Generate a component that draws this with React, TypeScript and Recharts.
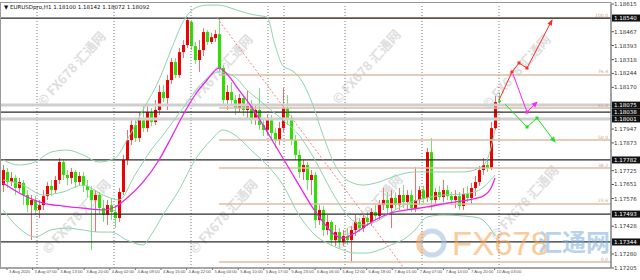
import React from 'react';
import { ComposedChart, Bar, Line, XAxis, YAxis, ReferenceLine } from 'recharts';

// EURUSD H1 candles
const opens = [
  1.17648, 1.17718, 1.17664, 1.17686, 1.17632, 1.17659, 1.17595, 1.17541, 1.17568, 1.17515,
  1.17541, 1.17589, 1.17643, 1.17621, 1.17675, 1.17771, 1.17702, 1.17686, 1.17718, 1.17664,
  1.17696, 1.17643, 1.17621, 1.17568, 1.17595, 1.17525, 1.17488, 1.17541, 1.17504, 1.17472,
  1.17611, 1.17782, 1.17888, 1.17969, 1.17899, 1.18006, 1.17952, 1.18038, 1.17985, 1.18049,
  1.18145, 1.18113, 1.18209, 1.18305, 1.18236, 1.18358, 1.18396, 1.18519, 1.18390, 1.18316,
  1.18369, 1.18465, 1.18412, 1.18433, 1.18454, 1.18273, 1.18102, 1.18145, 1.18102, 1.18059,
  1.18113, 1.18049, 1.18081, 1.17995, 1.18049, 1.17969, 1.17942, 1.17995, 1.17926, 1.17888,
  1.17952, 1.18059, 1.17995, 1.17888, 1.17809, 1.17718, 1.17755, 1.17675, 1.17702, 1.17461,
  1.17515, 1.17408, 1.17451, 1.17354, 1.17397, 1.17344, 1.17376, 1.17354, 1.17408, 1.17451,
  1.17418, 1.17472, 1.17451, 1.17504, 1.17483, 1.17541, 1.17568, 1.17525, 1.17579, 1.17541,
  1.17595, 1.17557, 1.17595, 1.17525, 1.17568, 1.17621, 1.17579, 1.17824, 1.17568, 1.17611,
  1.17584, 1.17621, 1.17589, 1.17568, 1.17589, 1.17536, 1.17600, 1.17579, 1.17632, 1.17664,
  1.17728, 1.17755, 1.17739, 1.17952, 1.18100,
];
const highs = [
  1.17755, 1.17739, 1.17718, 1.17702, 1.17686, 1.17675, 1.17621, 1.17595, 1.17589, 1.17568,
  1.17621, 1.17664, 1.17675, 1.17696, 1.17792, 1.17782, 1.17728, 1.17739, 1.17728, 1.17718,
  1.17718, 1.17675, 1.17643, 1.17621, 1.17611, 1.17568, 1.17568, 1.17579, 1.17541, 1.17632,
  1.17809, 1.17942, 1.18006, 1.17995, 1.18038, 1.18075, 1.18081, 1.18059, 1.18102, 1.18182,
  1.18182, 1.18236, 1.18326, 1.18326, 1.18380, 1.18422, 1.18545, 1.18530, 1.18412, 1.18422,
  1.18486, 1.18476, 1.18460, 1.18476, 1.18540, 1.18289, 1.18182, 1.18198, 1.18129, 1.18134,
  1.18129, 1.18155, 1.18102, 1.18075, 1.18166, 1.18006, 1.18022, 1.18022, 1.17952, 1.17985,
  1.18166, 1.18129, 1.18022, 1.17915, 1.17835, 1.17782, 1.17771, 1.17728, 1.17718, 1.17541,
  1.17536, 1.17488, 1.17461, 1.17435, 1.17418, 1.17408, 1.17418, 1.17429, 1.17488, 1.17472,
  1.17493, 1.17504, 1.17525, 1.17541, 1.17568, 1.17632, 1.17611, 1.17621, 1.17611, 1.17632,
  1.17648, 1.17621, 1.17621, 1.17744, 1.17643, 1.17643, 1.17846, 1.17899, 1.17632, 1.17643,
  1.17675, 1.17648, 1.17611, 1.17621, 1.17611, 1.17632, 1.17643, 1.17659, 1.17696, 1.17750,
  1.17792, 1.17782, 1.17985, 1.18123, 1.18142,
];
const lows = [
  1.17611, 1.17632, 1.17643, 1.17595, 1.17611, 1.17541, 1.17504, 1.17354, 1.17488, 1.17472,
  1.17515, 1.17568, 1.17589, 1.17600, 1.17654, 1.17675, 1.17648, 1.17654, 1.17632, 1.17643,
  1.17611, 1.17579, 1.17301, 1.17397, 1.17493, 1.17451, 1.17435, 1.17461, 1.17418, 1.17451,
  1.17595, 1.17755, 1.17862, 1.17878, 1.17878, 1.17931, 1.17931, 1.17963, 1.17969, 1.18022,
  1.18091, 1.18049, 1.18187, 1.18220, 1.18220, 1.18326, 1.18380, 1.18369, 1.18294, 1.18252,
  1.18337, 1.18396, 1.18401, 1.18412, 1.18252, 1.18070, 1.18049, 1.18081, 1.18022, 1.18038,
  1.18017, 1.18006, 1.17974, 1.17969, 1.17942, 1.17910, 1.17915, 1.17888, 1.17846, 1.17862,
  1.17931, 1.17969, 1.17862, 1.17782, 1.17686, 1.17675, 1.17621, 1.17595, 1.17418, 1.17435,
  1.17376, 1.17381, 1.17328, 1.17322, 1.17312, 1.17322, 1.17328, 1.17237, 1.17376, 1.17397,
  1.17397, 1.17429, 1.17429, 1.17461, 1.17461, 1.17515, 1.17493, 1.17418, 1.17515, 1.17515,
  1.17525, 1.17515, 1.17504, 1.17504, 1.17541, 1.17547, 1.17557, 1.17515, 1.17541, 1.17568,
  1.17557, 1.17568, 1.17541, 1.17525, 1.17515, 1.17515, 1.17557, 1.17547, 1.17589, 1.17643,
  1.17702, 1.17718, 1.17728, 1.17942, 1.18072,
];
const closes = [
  1.17728, 1.17664, 1.17686, 1.17632, 1.17664, 1.17595, 1.17541, 1.17568, 1.17515, 1.17541,
  1.17589, 1.17643, 1.17621, 1.17675, 1.17771, 1.17702, 1.17686, 1.17718, 1.17664, 1.17696,
  1.17643, 1.17621, 1.17568, 1.17595, 1.17525, 1.17488, 1.17541, 1.17504, 1.17472, 1.17611,
  1.17782, 1.17888, 1.17969, 1.17899, 1.18006, 1.17952, 1.18038, 1.17985, 1.18049, 1.18145,
  1.18113, 1.18209, 1.18305, 1.18236, 1.18358, 1.18396, 1.18529, 1.18390, 1.18316, 1.18369,
  1.18465, 1.18412, 1.18438, 1.18454, 1.18273, 1.18102, 1.18145, 1.18102, 1.18059, 1.18113,
  1.18049, 1.18081, 1.17995, 1.18049, 1.17969, 1.17942, 1.17995, 1.17926, 1.17888, 1.17952,
  1.18059, 1.17995, 1.17888, 1.17809, 1.17718, 1.17755, 1.17675, 1.17702, 1.17461, 1.17515,
  1.17408, 1.17451, 1.17354, 1.17397, 1.17344, 1.17376, 1.17354, 1.17408, 1.17451, 1.17418,
  1.17472, 1.17451, 1.17504, 1.17483, 1.17541, 1.17568, 1.17525, 1.17579, 1.17541, 1.17595,
  1.17557, 1.17595, 1.17525, 1.17568, 1.17621, 1.17579, 1.17824, 1.17568, 1.17611, 1.17584,
  1.17621, 1.17589, 1.17568, 1.17589, 1.17536, 1.17600, 1.17579, 1.17632, 1.17664, 1.17728,
  1.17755, 1.17739, 1.17952, 1.18091, 1.18092,
];

// indicator lines, [bar index, price]
const maLine = [
  [0, 1.17659], [5, 1.17595], [10, 1.17552], [15, 1.17536], [20, 1.17525], [25, 1.17515],
  [28, 1.17531], [31, 1.17579], [35, 1.17664], [39, 1.17782], [42, 1.17899], [45, 1.18022],
  [48, 1.18129], [51, 1.18209], [54, 1.18273], [56, 1.18241], [59, 1.18155], [62, 1.1807],
  [65, 1.17969], [68, 1.17862], [71, 1.17755], [74, 1.17648], [77, 1.17541], [80, 1.17451],
  [83, 1.17381], [85, 1.17365], [88, 1.17392], [91, 1.17435], [94, 1.17472], [97, 1.17499],
  [101, 1.17515], [106, 1.17531], [111, 1.17552], [116, 1.17568], [120, 1.17589], [122, 1.17632],
  [123, 1.17686],
];
const bbUpper = [
  [0, 1.17782], [4, 1.17755], [8, 1.17771], [12, 1.17824], [16, 1.17835], [20, 1.17809],
  [24, 1.17771], [28, 1.17792], [31, 1.17888], [35, 1.18049], [39, 1.18209], [42, 1.18369],
  [45, 1.18519], [48, 1.18593], [51, 1.18609], [54, 1.18609], [57, 1.18593], [60, 1.18572],
  [63, 1.18556], [66, 1.18545], [68, 1.18396], [70, 1.18284], [72, 1.18262], [74, 1.18225],
  [77, 1.18102], [80, 1.17915], [83, 1.17755], [86, 1.17675], [90, 1.17648], [94, 1.17664],
  [98, 1.17696], [103, 1.17718], [110, 1.17718], [115, 1.17718], [119, 1.17739], [121, 1.17782],
  [123, 1.17942],
];
const bbMiddle = [
  [0, 1.17675], [5, 1.17648], [10, 1.17595], [15, 1.17611], [20, 1.17648], [25, 1.17595],
  [29, 1.17568], [33, 1.17702], [37, 1.17835], [40, 1.17915], [45, 1.18059], [50, 1.18198],
  [54, 1.18252], [58, 1.18225], [61, 1.18155], [64, 1.18102], [67, 1.18049], [70, 1.17995],
  [74, 1.17915], [78, 1.17782], [82, 1.17621], [86, 1.17488], [90, 1.17435], [94, 1.17461],
  [98, 1.17515], [102, 1.17557], [106, 1.17579], [110, 1.17595], [115, 1.176], [119, 1.17621],
  [123, 1.17702],
];
const bbLower = [
  [0, 1.17515], [4, 1.17418], [8, 1.17371], [12, 1.17408], [16, 1.17418], [20, 1.17408],
  [24, 1.17397], [27, 1.17397], [31, 1.17354], [35, 1.17328], [37, 1.17381], [40, 1.17488],
  [44, 1.17621], [48, 1.17782], [52, 1.17888], [55, 1.17942], [58, 1.17915], [62, 1.17835],
  [66, 1.17755], [70, 1.17648], [74, 1.17488], [78, 1.17381], [82, 1.17328], [85, 1.17301],
  [88, 1.17285], [91, 1.17285], [94, 1.17301], [97, 1.17328], [101, 1.1737], [103, 1.17408],
  [106, 1.17477], [110, 1.17488], [115, 1.17483], [119, 1.17472], [121, 1.1744], [123, 1.17376],
];

// drawn objects
const redPath = [[124, 1.18102], [127.25, 1.18252], [129, 1.183], [131, 1.18273], [137.25, 1.18529]];
const magentaPath = [[127.5, 1.18241], [131, 1.18038], [133.5, 1.18091]];
const greenPath = [[125.5, 1.18081], [131, 1.17958], [133.5, 1.18006], [138, 1.17878]];
const channelLine = [[53.5, 1.1854], [100.25, 1.17205]];
const darkLevels = [1.1854, 1.18038, 1.17782, 1.17493, 1.17344];
const greyLevels = [1.18075, 1.18001];
const fibLabels = ['100.0', '76.4', '61.8', '50.0', '38.2', '23.6', '0.0'];
const fibPrices = [1.1854, 1.18236, 1.18059, 1.17888, 1.17739, 1.17547, 1.17237];
const fibStart = 54;
const separators = [8.5, 27.75, 47, 66.25, 70.25, 85.5, 104.75, 124];

// axis labels (the ones hidden under the line tags are left out)
const priceTicks = [
  1.18615, 1.18467, 1.18393, 1.18318, 1.18244, 1.1817, 1.17947,
  1.17873, 1.17725, 1.17651, 1.17576, 1.17428, 1.1728, 1.17205,
];
const timeTicks = [1, 7.4, 13.8, 20.3, 26.7, 33.1, 39.5, 45.9, 52.4, 58.8, 65.2, 71.6, 78, 84.4, 90.9, 97.3, 103.7, 110.1, 116.5, 122.9];
const timeLabels = [
  '3 Aug 2020', '3 Aug 07:00', '3 Aug 13:00', '3 Aug 20:00', '4 Aug 02:00', '4 Aug 09:00',
  '4 Aug 15:00', '4 Aug 22:00', '5 Aug 04:00', '5 Aug 10:00', '5 Aug 17:00', '5 Aug 23:00',
  '6 Aug 06:00', '6 Aug 12:00', '6 Aug 18:00', '7 Aug 01:00', '7 Aug 07:00', '7 Aug 14:00',
  '7 Aug 20:00', '10 Aug 03:00',
];

const W = 640;
const H = 280;
const AXIS_W = 29;
const X_AXIS_H = 12;
const TOP = 4;
const xDomain: [number, number] = [-0.75, 152];
const yDomain: [number, number] = [1.17205, 1.18615];
const pxPerX = (W - AXIS_W) / (xDomain[1] - xDomain[0]);
const pxPerPrice = (H - TOP - X_AXIS_H) / (yDomain[1] - yDomain[0]);
const FONT = 'DejaVu Sans, Liberation Sans, sans-serif';
const NARROW = 'Liberation Sans Narrow, Liberation Sans, sans-serif';

const candles = opens.map((o, i) => ({ i, o, h: highs[i], l: lows[i], c: closes[i] }));
const toSeries = (pts: number[][]) => pts.map(([i, v]) => ({ i, v }));

const Candle = (props: any) => {
  const { x, y, width, height, payload } = props;
  if (x == null || payload == null) return null;
  const { o, h, l, c } = payload;
  const top = Math.min(y, y + height);
  const hh = Math.abs(height);
  const k = h === l ? 0 : hh / (h - l);
  const yO = top + (h - o) * k;
  const yC = top + (h - c) * k;
  const up = c >= o;
  const cx = Math.round(x + width / 2) + 0.5;
  return (
    <g>
      <line x1={cx} x2={cx} y1={top} y2={top + hh} stroke={up ? '#ff6a6a' : '#6ae86a'} strokeWidth={1} />
      <rect
        x={cx - 1.5}
        y={Math.min(yO, yC)}
        width={3}
        height={Math.max(1, Math.abs(yO - yC))}
        fill={up ? '#f00000' : '#2ee000'}
      />
    </g>
  );
};

const makeDot = (path: number[][], color: string) => (props: any) => {
  const { cx, cy, index } = props;
  const key = `dot-${color}-${index}`;
  if (index === 0 || cx == null) return <g key={key} />;
  if (index === path.length - 1) {
    const [x0, y0] = path[index - 1];
    const [x1, y1] = path[index];
    const deg = (Math.atan2(-(y1 - y0) * pxPerPrice, (x1 - x0) * pxPerX) * 180) / Math.PI;
    return (
      <polygon
        key={key}
        points="1,0 -5,-2.5 -5,2.5"
        fill={color}
        transform={`translate(${cx},${cy}) rotate(${deg})`}
      />
    );
  }
  return <rect key={key} x={cx - 1.5} y={cy - 1.5} width={3} height={3} fill={color} />;
};

const priceTag = (value: number) => (props: any) => {
  const vb = props.viewBox;
  if (!vb) return null;
  const x = vb.x + vb.width;
  return (
    <g>
      <rect x={x + 1} y={vb.y - 3.5} width={28} height={7} fill="#111" />
      <text x={x + 3} y={vb.y + 2} fontSize={5.5} fill="#fff" fontFamily={FONT}>
        {value.toFixed(5)}
      </text>
    </g>
  );
};

const fibTag = (text: string) => (props: any) => {
  const vb = props.viewBox;
  if (!vb) return null;
  return (
    <text x={vb.x + vb.width - 3} y={vb.y - 1.5} fontSize={4.5} fill="#c9a690" textAnchor="end" fontFamily={FONT}>
      {text}
    </text>
  );
};

const PriceTick = (props: any) => {
  const { x, y, payload } = props;
  return (
    <text x={x} y={y + 2} fontSize={5.5} fill="#333" fontFamily={FONT}>
      {Number(payload.value).toFixed(5)}
    </text>
  );
};

const TimeTick = (props: any) => {
  const { x, y, payload } = props;
  const idx = timeTicks.indexOf(payload.value);
  return (
    <text x={x + 2} y={y + 3} fontSize={4.2} fill="#555" fontFamily={NARROW}>
      {timeLabels[idx] ?? ''}
    </text>
  );
};

const watermarks = [
  [75, 72], [222, 75], [370, 70], [520, 75],
  [80, 220], [227, 220], [372, 215], [528, 206],
];

export default function App() {
  return (
    <div style={{ position: 'absolute', left: 0, top: 0, width: W, height: H, background: '#fff', overflow: 'hidden' }}>
      <svg width={W} height={H} style={{ position: 'absolute', left: 0, top: 0 }}>
        {watermarks.map(([x, y], k) => (
          <text
            key={k}
            x={x}
            y={y}
            textAnchor="middle"
            fontSize={13}
            fontWeight="bold"
            fill="#c4c4c4"
            opacity={0.55}
            fontFamily="Noto Sans CJK SC, DejaVu Sans, sans-serif"
            transform={`rotate(-48 ${x} ${y})`}
          >
            © FX678 汇通网
          </text>
        ))}
      </svg>
      <div style={{ position: 'absolute', left: 0, top: 0 }}>
        <ComposedChart width={W} height={H} data={candles} margin={{ top: TOP, right: 0, bottom: 0, left: 0 }}>
          <XAxis
            dataKey="i"
            type="number"
            domain={xDomain}
            allowDataOverflow
            ticks={timeTicks}
            tick={<TimeTick />}
            tickSize={2}
            tickMargin={0}
            height={X_AXIS_H}
            interval={0}
            stroke="#666"
          />
          <YAxis
            orientation="right"
            type="number"
            domain={yDomain}
            allowDataOverflow
            ticks={priceTicks}
            tick={<PriceTick />}
            tickSize={3}
            tickMargin={0}
            width={AXIS_W}
            interval={0}
            stroke="#555"
          />
          {separators.map((s) => (
            <ReferenceLine key={`s${s}`} x={s} stroke="#777" strokeDasharray="1 2" />
          ))}
          {greyLevels.map((p) => (
            <ReferenceLine key={`g${p}`} y={p} stroke="#cfcfcf" strokeWidth={3} label={priceTag(p)} />
          ))}
          {fibPrices.map((p, k) => (
            <ReferenceLine
              key={`f${p}`}
              segment={[{ x: fibStart, y: p }, { x: xDomain[1], y: p }]}
              stroke="#dcbca6"
              strokeWidth={1.5}
              label={fibTag(fibLabels[k])}
            />
          ))}
          {darkLevels.map((p) => (
            <ReferenceLine key={`d${p}`} y={p} stroke="#2a2a2a" strokeWidth={1.3} label={priceTag(p)} />
          ))}
          <ReferenceLine
            segment={[{ x: channelLine[0][0], y: channelLine[0][1] }, { x: channelLine[1][0], y: channelLine[1][1] }]}
            stroke="#ff7a7a"
            strokeDasharray="2 2"
          />
          <Line data={toSeries(bbUpper)} dataKey="v" type="monotone" stroke="#8fd4ac" strokeWidth={1} dot={false} isAnimationActive={false} />
          <Line data={toSeries(bbMiddle)} dataKey="v" type="monotone" stroke="#8fd4ac" strokeWidth={1} dot={false} isAnimationActive={false} />
          <Line data={toSeries(bbLower)} dataKey="v" type="monotone" stroke="#8fd4ac" strokeWidth={1} dot={false} isAnimationActive={false} />
          <Line data={toSeries(maLine)} dataKey="v" type="monotone" stroke="#ee22ee" strokeWidth={1.3} dot={false} isAnimationActive={false} />
          <Bar dataKey={(d: any) => [d.l, d.h]} shape={<Candle />} barSize={3} isAnimationActive={false} />
          <Line data={toSeries(redPath)} dataKey="v" type="linear" stroke="#ff2a2a" strokeWidth={1} dot={makeDot(redPath, '#ff2a2a')} isAnimationActive={false} />
          <Line data={toSeries(magentaPath)} dataKey="v" type="linear" stroke="#ff22ff" strokeWidth={1} dot={makeDot(magentaPath, '#ff22ff')} isAnimationActive={false} />
          <Line data={toSeries(greenPath)} dataKey="v" type="linear" stroke="#22dd22" strokeWidth={1} dot={makeDot(greenPath, '#22dd22')} isAnimationActive={false} />
        </ComposedChart>
      </div>
      <svg width={W} height={H} style={{ position: 'absolute', left: 0, top: 0, pointerEvents: 'none' }}>
        <rect x={0.5} y={2.5} width={W - AXIS_W - 0.5} height={H - X_AXIS_H - 2.5} fill="none" stroke="#999" strokeWidth={1} />
        <text x={4} y={9} fontSize={5.5} fill="#111" fontFamily={FONT}>
          ▼ EURUSDpro,H1  1.18100 1.18142 1.18072 1.18092
        </text>
        <g opacity={0.55}>
          <circle cx={432} cy={243} r={12} fill="none" stroke="#9fbde0" strokeWidth={5} />
          <path d="M 424 233 A 12 12 0 0 0 424 253" fill="none" stroke="#f3a65c" strokeWidth={5} />
          <text x={452} y={255} fontSize={33} fill="#f7a24a" fontFamily={NARROW}>
            FX678
          </text>
          <text x={538} y={251} fontSize={24} fontWeight="bold" fill="#7eaedc" fontFamily="Noto Sans CJK SC, sans-serif">
            汇通网
          </text>
        </g>
      </svg>
    </div>
  );
}
